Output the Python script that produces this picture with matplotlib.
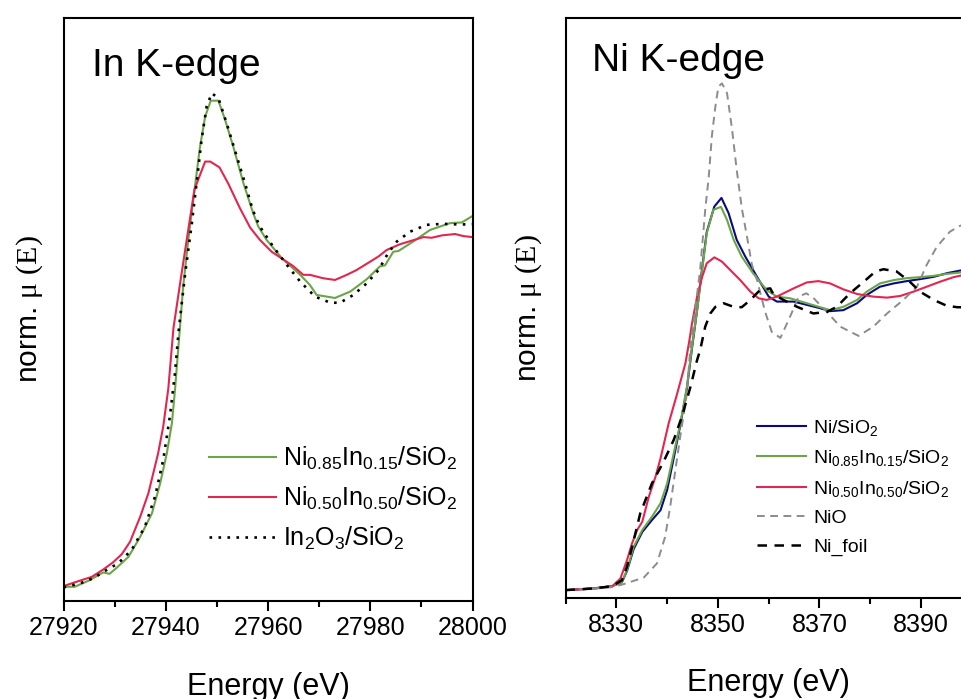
import matplotlib
matplotlib.use("Agg")
import matplotlib.pyplot as plt
from matplotlib.ticker import MultipleLocator

plt.rcParams['font.family'] = ['Liberation Sans', 'DejaVu Sans']
plt.rcParams['mathtext.fontset'] = 'custom'
plt.rcParams['mathtext.rm'] = 'Liberation Sans'
plt.rcParams['mathtext.it'] = 'Liberation Sans:italic'
plt.rcParams['mathtext.bf'] = 'Liberation Sans:bold'
plt.rcParams['mathtext.sf'] = 'Liberation Serif'

# ---------------- In K-edge ----------------
in_energy_green = [27920.0, 27922.2, 27925.2, 27927.1, 27927.8, 27929.0, 27930.1, 27932.7, 27935.0,
                   27937.3, 27938.9, 27940.2, 27941.2, 27941.8, 27942.5, 27943.4, 27944.4, 27945.7,
                   27946.7, 27947.7, 27948.8, 27950.3, 27951.6, 27953.2, 27955.2, 27957.1, 27958.1,
                   27959.7, 27962.7, 27966.3, 27968.2, 27969.5, 27973.1, 27976.1, 27979.3, 27981.9,
                   27982.9, 27984.5, 27985.5, 27988.4, 27991.7, 27995.6, 27997.9, 28000.0]
in_mu_green = [-0.002, -0.002, 0.018, 0.035, 0.040, 0.036, 0.050, 0.086, 0.145, 0.214, 0.302, 0.390,
               0.479, 0.576, 0.709, 0.880, 1.018, 1.174, 1.292, 1.380, 1.427, 1.427, 1.371, 1.292,
               1.184, 1.096, 1.057, 1.018, 0.964, 0.915, 0.885, 0.856, 0.847, 0.866, 0.902, 0.940,
               0.943, 0.983, 0.985, 1.013, 1.047, 1.067, 1.069, 1.088]

in_energy_red = [27920.0, 27923.2, 27925.5, 27927.8, 27929.7, 27931.4, 27933.0, 27935.0, 27936.6,
                 27938.5, 27939.5, 27940.5, 27941.5, 27942.8, 27944.1, 27945.6, 27946.7, 27947.7,
                 27948.7, 27950.5, 27952.2, 27954.5, 27956.5, 27958.4, 27960.7, 27963.3, 27964.9,
                 27966.9, 27968.2, 27970.8, 27973.1, 27975.4, 27977.3, 27980.0, 27981.6, 27983.2,
                 27985.8, 27989.1, 27990.4, 27992.0, 27994.0, 27996.6, 27998.2, 28000.0]
in_mu_red = [0.000, 0.016, 0.027, 0.049, 0.070, 0.094, 0.130, 0.204, 0.273, 0.390, 0.469, 0.581,
             0.758, 0.890, 1.018, 1.165, 1.209, 1.248, 1.248, 1.231, 1.184, 1.111, 1.054, 1.018,
             0.983, 0.957, 0.941, 0.915, 0.915, 0.905, 0.900, 0.915, 0.929, 0.954, 0.969, 0.988,
             1.005, 1.020, 1.026, 1.024, 1.031, 1.035, 1.029, 1.026]

in_energy_ref = [27920.0, 27923.2, 27925.8, 27928.4, 27930.7, 27933.3, 27935.9, 27937.9, 27939.5,
                 27940.8, 27941.8, 27942.5, 27943.8, 27945.1, 27946.1, 27947.0, 27948.0, 27949.0,
                 27950.3, 27951.9, 27953.5, 27955.5, 27957.0, 27958.4, 27961.0, 27963.7, 27966.3,
                 27969.2, 27972.2, 27974.1, 27976.7, 27979.3, 27981.6, 27983.5, 27985.2, 27987.8,
                 27991.0, 27994.3, 27997.6, 28000.0]
in_mu_ref = [-0.004, 0.008, 0.023, 0.047, 0.067, 0.106, 0.174, 0.263, 0.371, 0.498, 0.626, 0.748,
             0.920, 1.067, 1.194, 1.312, 1.410, 1.449, 1.434, 1.361, 1.282, 1.184, 1.106, 1.057,
             0.998, 0.944, 0.895, 0.851, 0.833, 0.833, 0.856, 0.890, 0.929, 0.979, 1.013, 1.042,
             1.062, 1.065, 1.063, 1.064]

# ---------------- Ni K-edge ----------------
ni_energy_blue = [8320.0, 8325.5, 8329.2, 8331.1, 8332.1, 8333.4, 8335.1, 8337.0, 8338.7, 8340.0,
                  8341.3, 8342.6, 8343.9, 8344.9, 8345.9, 8346.9, 8347.8, 8349.3, 8350.7, 8352.1,
                  8353.7, 8355.4, 8357.7, 8360.0, 8361.6, 8362.3, 8364.9, 8367.5, 8370.1, 8372.1,
                  8374.7, 8377.4, 8379.3, 8381.9, 8384.6, 8387.2, 8389.8, 8392.5, 8395.1, 8397.7,
                  8400.0]
ni_mu_blue = [0.0, 0.005, 0.012, 0.024, 0.058, 0.124, 0.176, 0.212, 0.242, 0.303, 0.400, 0.500,
              0.612, 0.733, 0.848, 0.976, 1.085, 1.162, 1.188, 1.142, 1.061, 1.010, 0.949, 0.889,
              0.874, 0.874, 0.874, 0.864, 0.854, 0.845, 0.848, 0.869, 0.894, 0.919, 0.929, 0.936,
              0.942, 0.949, 0.960, 0.968, 0.973]

ni_energy_green = [8320.0, 8325.5, 8329.2, 8331.1, 8332.1, 8333.4, 8335.1, 8337.0, 8338.7, 8340.0,
                   8341.3, 8342.6, 8343.9, 8344.9, 8345.9, 8346.9, 8347.8, 8349.1, 8350.6, 8351.8,
                   8353.1, 8354.7, 8357.0, 8359.6, 8361.6, 8364.2, 8367.5, 8370.1, 8372.1, 8374.7,
                   8377.4, 8379.3, 8381.9, 8384.6, 8387.2, 8389.8, 8392.5, 8395.1, 8397.7, 8400.0]
ni_mu_green = [0.0, 0.005, 0.012, 0.025, 0.061, 0.131, 0.182, 0.222, 0.263, 0.323, 0.414, 0.505,
               0.616, 0.737, 0.848, 0.970, 1.081, 1.152, 1.161, 1.121, 1.061, 1.010, 0.958, 0.909,
               0.889, 0.884, 0.869, 0.857, 0.848, 0.858, 0.879, 0.904, 0.929, 0.939, 0.945, 0.948,
               0.952, 0.958, 0.962, 0.966]

ni_energy_red = [8320.0, 8325.5, 8329.2, 8330.8, 8332.1, 8333.1, 8334.1, 8335.1, 8336.4, 8337.7,
                 8338.7, 8340.3, 8341.9, 8343.6, 8344.4, 8344.9, 8345.9, 8346.9, 8347.8, 8349.3,
                 8350.8, 8352.4, 8354.4, 8356.4, 8358.0, 8359.6, 8361.6, 8364.9, 8367.5, 8369.8,
                 8372.1, 8374.7, 8377.4, 8380.6, 8383.3, 8385.9, 8388.5, 8391.1, 8393.7, 8396.4,
                 8400.0]
ni_mu_red = [0.0, 0.005, 0.012, 0.035, 0.091, 0.142, 0.182, 0.207, 0.283, 0.343, 0.399, 0.505,
             0.591, 0.687, 0.758, 0.808, 0.889, 0.949, 0.990, 1.008, 0.995, 0.970, 0.939, 0.904,
             0.884, 0.879, 0.889, 0.914, 0.932, 0.936, 0.929, 0.911, 0.897, 0.889, 0.886, 0.891,
             0.904, 0.919, 0.934, 0.948, 0.960]

nio_energy = [8320.0, 8325.5, 8329.2, 8331.4, 8335.4, 8338.0, 8339.6, 8340.6, 8341.6, 8342.6,
              8343.9, 8344.6, 8345.5, 8346.5, 8347.5, 8348.2, 8348.8, 8349.5, 8350.1, 8350.8,
              8351.8, 8352.8, 8353.7, 8354.7, 8355.7, 8356.7, 8357.7, 8359.3, 8360.6, 8362.3,
              8364.2, 8365.9, 8367.4, 8368.8, 8371.5, 8374.1, 8377.7, 8380.6, 8383.3, 8386.5,
              8389.2, 8391.1, 8393.1, 8395.7, 8397.6, 8400.0]
nio_mu = [0.0, 0.004, 0.009, 0.018, 0.038, 0.081, 0.161, 0.252, 0.361, 0.467, 0.596, 0.742,
          0.848, 0.970, 1.152, 1.252, 1.374, 1.465, 1.525, 1.535, 1.505, 1.394, 1.273, 1.157,
          1.073, 0.985, 0.939, 0.843, 0.782, 0.764, 0.828, 0.889, 0.899, 0.885, 0.842, 0.798,
          0.770, 0.798, 0.838, 0.879, 0.919, 0.985, 1.040, 1.086, 1.103, 1.115]

foil_energy = [8320.0, 8325.5, 8329.2, 8331.1, 8332.1, 8333.1, 8334.7, 8337.0, 8339.3, 8341.3,
               8342.9, 8344.6, 8345.9, 8346.5, 8347.5, 8348.5, 8349.5, 8351.1, 8353.1, 8354.7,
               8356.4, 8358.3, 8360.3, 8360.9, 8362.9, 8365.6, 8368.8, 8371.5, 8373.4, 8376.0,
               8378.7, 8381.0, 8382.6, 8385.2, 8387.8, 8389.8, 8392.5, 8395.1, 8397.1, 8400.0]
foil_mu = [0.0, 0.005, 0.012, 0.030, 0.071, 0.131, 0.232, 0.323, 0.389, 0.455, 0.525, 0.616,
           0.697, 0.727, 0.798, 0.838, 0.858, 0.869, 0.858, 0.857, 0.879, 0.909, 0.914, 0.897,
           0.879, 0.858, 0.838, 0.843, 0.858, 0.899, 0.934, 0.965, 0.972, 0.965, 0.934, 0.904,
           0.879, 0.861, 0.857, 0.856]

labels_in = [r'Ni$_{0.85}$In$_{0.15}$/SiO$_2$', r'Ni$_{0.50}$In$_{0.50}$/SiO$_2$',
             r'In$_2$O$_3$/SiO$_2$']
labels_ni = [r'Ni/SiO$_2$', r'Ni$_{0.85}$In$_{0.15}$/SiO$_2$', r'Ni$_{0.50}$In$_{0.50}$/SiO$_2$',
             'NiO', 'Ni_foil']

GREEN = '#6BA547'
RED = '#E3264F'
BLUE = '#0A0A80'
GREY = '#8C8C8C'

fig = plt.figure(figsize=(9.61, 6.99), dpi=100)
ax1 = fig.add_axes([0.0661, 0.1406, 0.4256, 0.8341])
ax2 = fig.add_axes([0.5885, 0.1449, 0.4228, 0.8289])

# In K-edge panel
ax1.plot(in_energy_green, in_mu_green, color=GREEN, lw=1.5, label=labels_in[0])
ax1.plot(in_energy_red, in_mu_red, color=RED, lw=1.5, label=labels_in[1])
ax1.plot(in_energy_ref, in_mu_ref, color='black', lw=1.9, linestyle=(0, (1, 2.4)),
         label=labels_in[2])
ax1.set_xlim(27920, 28000)
ax1.set_ylim(-0.043, 1.671)
ax1.xaxis.set_major_locator(MultipleLocator(20))
ax1.xaxis.set_minor_locator(MultipleLocator(10))
ax1.text(0.069, 0.900, 'In K-edge', transform=ax1.transAxes, fontsize=28, va='baseline')

# Ni K-edge panel
ax2.plot(ni_energy_blue, ni_mu_blue, color=BLUE, lw=1.5, label=labels_ni[0])
ax2.plot(ni_energy_green, ni_mu_green, color=GREEN, lw=1.5, label=labels_ni[1])
ax2.plot(ni_energy_red, ni_mu_red, color=RED, lw=1.5, label=labels_ni[2])
ax2.plot(nio_energy, nio_mu, color=GREY, lw=1.4, linestyle=(0, (4.0, 2.8)), label=labels_ni[3])
ax2.plot(foil_energy, foil_mu, color='black', lw=1.8, linestyle=(0, (3.8, 3.0)),
         label=labels_ni[4])
ax2.set_xlim(8320, 8400)
ax2.set_ylim(-0.023, 1.732)
ax2.set_xticks([8330, 8350, 8370, 8390])
ax2.set_xticks([8320, 8340, 8360, 8380, 8400], minor=True)
ax2.text(0.0645, 0.909, 'Ni K-edge', transform=ax2.transAxes, fontsize=28, va='baseline')

for ax in (ax1, ax2):
    for sp in ax.spines.values():
        sp.set_linewidth(1.5)
    ax.set_yticks([])
    ax.tick_params(axis='x', which='major', direction='out', length=7.2, width=1.5,
                   labelsize=18, pad=3.5)
    ax.tick_params(axis='x', which='minor', direction='out', length=4.3, width=1.5)
    ax.set_xlabel('Energy (eV)', fontsize=22)
    ax.xaxis.label.set_va('baseline')
    ax.set_ylabel(r'norm. $\mathsf{\mu\ (E)}$', fontsize=21.5)
    ax.yaxis.label.set_va('center')

ax1.xaxis.set_label_coords(0.5, -0.162)
ax2.xaxis.set_label_coords(0.5, -0.161)
ax1.yaxis.set_label_coords(-0.082, 0.5)
ax2.yaxis.set_label_coords(-0.090, 0.5)

ax1.legend(loc='center left', bbox_to_anchor=(0.3565, 0.1756), frameon=False, fontsize=18,
           handlelength=2.68, handletextpad=0.27, labelspacing=0.5, borderpad=0,
           borderaxespad=0)
ax2.legend(loc='center left', bbox_to_anchor=(0.4706, 0.1916), frameon=False, fontsize=14,
           handlelength=2.52, handletextpad=0.38, labelspacing=0.55, borderpad=0,
           borderaxespad=0)

fig.savefig('out.png', dpi=100)
